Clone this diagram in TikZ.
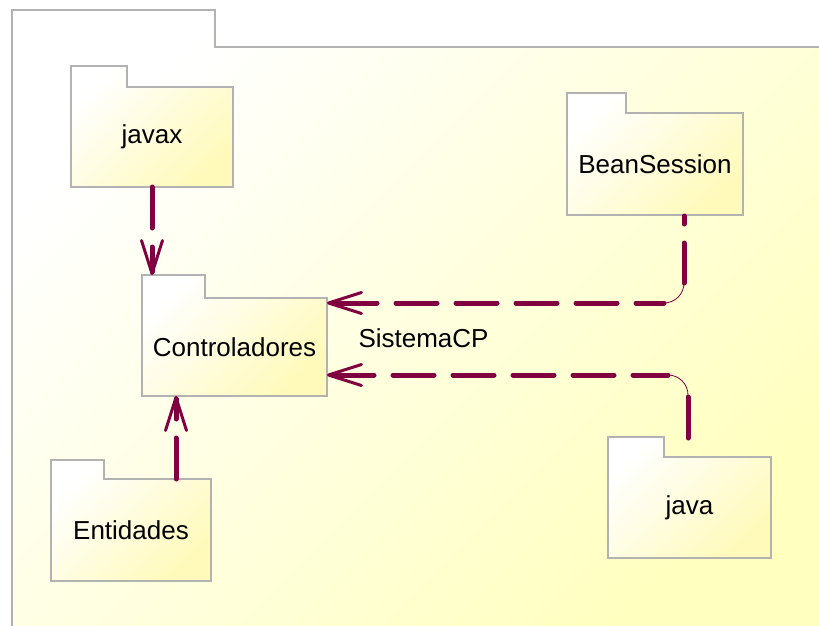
\documentclass[tikz,border=0pt]{standalone}
\usepackage{fontspec}
\setmainfont{Liberation Sans}
\usetikzlibrary{arrows.meta,calc}

\definecolor{depcol}{RGB}{128,0,64}
\definecolor{framegray}{RGB}{178,178,178}
\definecolor{bgyellow}{RGB}{255,255,192}
\definecolor{boxyellow}{RGB}{255,250,186}

\tikzset{
  folderline/.style={draw=framegray, line width=2.8pt, line join=miter},
  folderfill/.style={top color=white, bottom color=boxyellow, shading angle=45},
  labelfont/.style={font=\fontsize{26}{31}\selectfont},
  bodynode/.style={inner sep=0pt, outer sep=0pt, labelfont},
  dep/.style={draw=depcol, line width=5pt, line cap=round, dash pattern=on 41pt off 19pt},
  deptip/.style={-{Straight Barb[length=33pt,width=21pt,line width=3pt,round]}},
  bendline/.style={draw=depcol, line width=0.8pt},
}

% UML package folder: name, left, tab top, tab right, body top, right, bottom, label
\newcommand\pkgfolder[8]{%
  \shade[folderfill] (#2,#3) -- (#4,#3) -- (#4,#5) -- (#6,#5) -- (#6,#7) -- (#2,#7) -- cycle;
  \draw[folderline] (#2,#3) -- (#4,#3) -- (#4,#5) -- (#6,#5) -- (#6,#7) -- (#2,#7) -- cycle;
  \node[bodynode, minimum width=#6pt-#2pt, minimum height=#7pt-#5pt] (#1) at ({(#2+#6)/2},{(#5+#7)/2}) {#8};
  \node[inner sep=0pt, outer sep=0pt, minimum width=#4pt-#2pt, minimum height=#5pt-#3pt] (#1 tab) at ({(#2+#4)/2},{(#3+#5)/2}) {};
}

\begin{document}
\begin{tikzpicture}[x=1pt, y=-1pt]
\useasboundingbox (0,0) rectangle (819,626);
\fill[white] (0,0) rectangle (819,626);

% enclosing package
\shade[top color=white, bottom color=bgyellow, shading angle=45]
  (12,10) -- (215,10) -- (215,47) -- (822,47) -- (822,629) -- (12,629) -- cycle;
\draw[folderline] (12,629) -- (12,10) -- (215,10) -- (215,47) -- (822,47);

% inner packages
\pkgfolder{javax}{71}{66}{127}{87}{233}{187}{javax}
\pkgfolder{ctrl}{142}{275}{205}{298}{327}{396}{Controladores}
\pkgfolder{ents}{51}{460}{104}{479}{211}{581}{Entidades}
\pkgfolder{bean}{567}{93}{626}{113}{743}{215}{BeanSession}
\pkgfolder{java}{608}{437}{664}{457}{771}{558}{java}

\node[labelfont, anchor=base west] (syscp) at (355,347) {SistemaCP};

% javax -> Controladores
\draw[dep, deptip] (javax.south) -- (javax.south |- ctrl tab.north);

% Entidades -> Controladores
\coordinate (enA) at (176,479);
\draw[dep, deptip] (enA) -- (enA |- ctrl.south);

% BeanSession -> Controladores
\coordinate (bsA) at (684,216);
\coordinate (bsB) at (684,283);
\coordinate (bsC) at (664,303);
\draw[dep, dash phase=33] (bsA) -- (bsB);
\draw[bendline] (bsB) .. controls (684,294) and (675,303) .. (bsC);
\draw[dep, deptip, dash phase=13] (bsC) -- (bsC -| ctrl.east);

% java -> Controladores
\coordinate (jvA) at (688,438);
\coordinate (jvB) at (688,395);
\coordinate (jvC) at (668,375);
\draw[dep] (jvA) -- (jvB);
\draw[bendline] (jvB) .. controls (688,384) and (679,375) .. (jvC);
\draw[dep, deptip, dash phase=6] (jvC) -- (jvC -| ctrl.east);
\end{tikzpicture}
\end{document}
